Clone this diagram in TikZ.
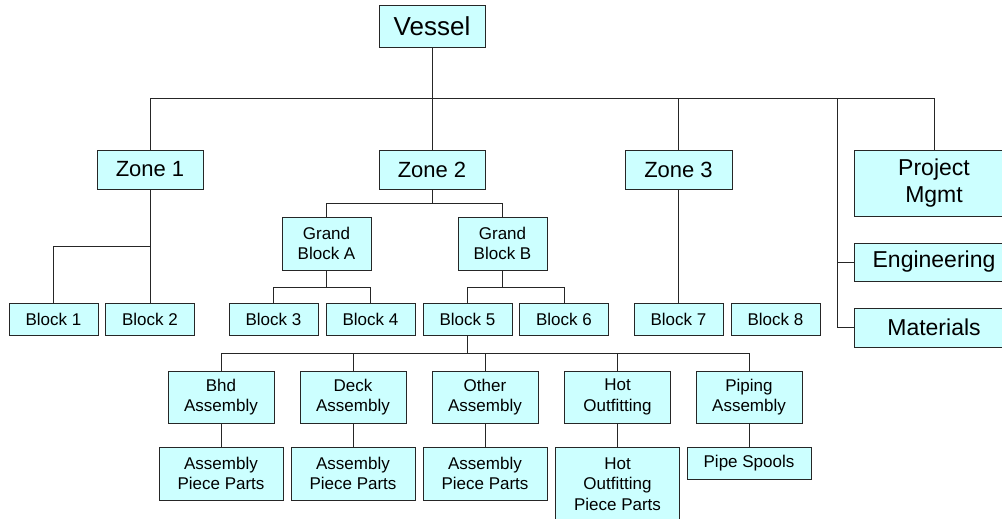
\documentclass[tikz,border=0pt]{standalone}
\usepackage{fontspec}
\setmainfont{Liberation Sans}
\definecolor{celeste}{RGB}{204,255,255}
\tikzset{
  caja/.style={draw=black!85, fill=celeste, inner sep=0pt, align=center, line width=0.9pt},
  zona/.style={caja, minimum width=106pt, minimum height=39pt, font=\fontsize{22}{26}\selectfont},
  lateral/.style={caja, minimum width=160pt, font=\fontsize{23}{27}\selectfont},
  bloque/.style={caja, minimum width=89pt, minimum height=32pt, font=\fontsize{17}{20.5}\selectfont},
  grupo/.style={caja, minimum width=106pt, minimum height=52pt, font=\fontsize{17}{20.5}\selectfont},
  piezas/.style={caja, minimum width=124pt, minimum height=53pt, font=\fontsize{17}{20.5}\selectfont},
  linea/.style={line width=0.9pt, black!85}
}
\begin{document}
\begin{tikzpicture}[x=1pt,y=-1pt]
  \useasboundingbox (0,0) rectangle (1002,519);

  % Nodo principal
  \node[caja, minimum width=106pt, minimum height=42pt, font=\fontsize{26}{30}\selectfont] (vessel) at (432,26) {Vessel};

  % Zonas y areas laterales
  \node[zona] (zone1) at (150,169.5) {Zone 1};
  \node[zona] (zone2) at (432,169.5) {Zone 2};
  \node[zona, minimum width=107pt] (zone3) at (678.5,169.5) {Zone 3};
  \node[lateral, minimum height=66pt] (mgmt) at (934,183) {Project\\Mgmt};
  \node[lateral, minimum height=38pt] (eng) at (934,262) {Engineering};
  \node[lateral, minimum height=39pt] (mat) at (934,327.5) {Materials};

  % Grandes bloques
  \node[bloque, minimum height=53pt] (grandA) at (326.5,243.5) {Grand\\Block A};
  \node[bloque, minimum height=53pt] (grandB) at (502.5,243.5) {Grand\\Block B};

  % Bloques
  \node[bloque] (block1) at (53.5,319) {Block 1};
  \node[bloque] (block2) at (150,319) {Block 2};
  \node[bloque] (block3) at (273.5,319) {Block 3};
  \node[bloque] (block4) at (370.5,319) {Block 4};
  \node[bloque] (block5) at (467.5,319) {Block 5};
  \node[bloque] (block6) at (564,319) {Block 6};
  \node[bloque] (block7) at (678.5,319) {Block 7};
  \node[bloque] (block8) at (775.5,319) {Block 8};

  % Ensambles del bloque 5
  \node[grupo] (bhd) at (221,397) {Bhd\\Assembly};
  \node[grupo] (deck) at (353,397) {Deck\\Assembly};
  \node[grupo] (other) at (485,397) {Other\\Assembly};
  \node[grupo] (hot) at (617.5,397) {Hot\\Outfitting};
  \node[grupo] (piping) at (749,397) {Piping\\Assembly};

  % Piezas
  \node[piezas] (parts1) at (221,473.5) {Assembly\\Piece Parts};
  \node[piezas] (parts2) at (353,473.5) {Assembly\\Piece Parts};
  \node[piezas] (parts3) at (485,473.5) {Assembly\\Piece Parts};
  \node[piezas, minimum height=74pt] (hotparts) at (617.5,484) {Hot\\Outfitting\\Piece Parts};
  \node[piezas, minimum height=32pt] (spools) at (749,463) {Pipe Spools};

  % Lineas del primer nivel
  \draw[linea] (vessel.south) -- ++(0,51) coordinate (bus);
  \coordinate (lado) at (837,98);
  \foreach \n in {zone1,zone2,zone3,mgmt}
    \draw[linea] (\n.north) |- (bus);
  \draw[linea] (eng.west) -| (lado);
  \draw[linea] (mat.west) -| (lado);

  % Lineas de las zonas
  \draw[linea] (zone1.south) -- ++(0,57) coordinate (z1);
  \draw[linea] (block1.north) |- (z1);
  \draw[linea] (block2.north) -- (z1);
  \draw[linea] (zone2.south) -- ++(0,14) coordinate (z2);
  \draw[linea] (grandA.north) |- (z2);
  \draw[linea] (grandB.north) |- (z2);
  \draw[linea] (zone3.south) -- (block7.north);

  % Lineas de los grandes bloques
  \draw[linea] (grandA.south) -- ++(0,17) coordinate (ga);
  \draw[linea] (block3.north) |- (ga);
  \draw[linea] (block4.north) |- (ga);
  \draw[linea] (grandB.south) -- ++(0,17) coordinate (gb);
  \draw[linea] (block5.north) |- (gb);
  \draw[linea] (block6.north) |- (gb);

  % Lineas del bloque 5
  \draw[linea] (block5.south) -- ++(0,18) coordinate (b5);
  \foreach \n in {bhd,deck,other,hot,piping}
    \draw[linea] (\n.north) |- (b5);
  \draw[linea] (bhd.south) -- (parts1.north);
  \draw[linea] (deck.south) -- (parts2.north);
  \draw[linea] (other.south) -- (parts3.north);
  \draw[linea] (hot.south) -- (hotparts.north);
  \draw[linea] (piping.south) -- (spools.north);
\end{tikzpicture}
\end{document}
